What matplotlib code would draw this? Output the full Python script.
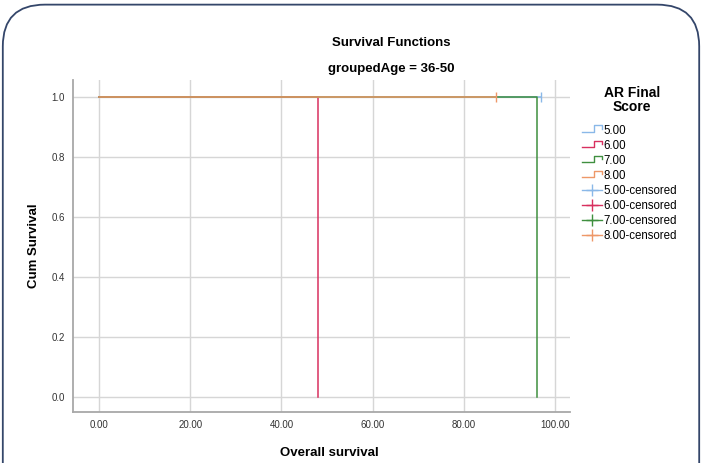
import matplotlib
matplotlib.use("Agg")
import matplotlib.pyplot as plt
import numpy as np
from matplotlib.lines import Line2D
from matplotlib.legend_handler import HandlerBase
from matplotlib.patches import FancyBboxPatch

plt.rcParams['font.family'] = ['Liberation Sans', 'DejaVu Sans']

# Survival data per AR Final Score group (time, event: 1 = death, 0 = censored)
groups = ["5.00", "6.00", "7.00", "8.00"]
times = [[97.0], [48.0], [96.0], [87.0]]
events = [[0], [1], [1], [0]]
colors = ["#8ab8e8", "#d8305f", "#3f8f3f", "#ee9868"]

x_ticks = [0, 20, 40, 60, 80, 100]
y_ticks = [0.0, 0.2, 0.4, 0.6, 0.8, 1.0]


def km_curve(t, e):
    order = np.argsort(t)
    t = np.asarray(t, float)[order]
    e = np.asarray(e)[order]
    xs, ys = [0.0], [1.0]
    s = 1.0
    n = len(t)
    cens_x, cens_y = [], []
    for i, (ti, ei) in enumerate(zip(t, e)):
        at_risk = n - i
        xs.append(ti)
        ys.append(s)
        if ei == 1:
            s = s * (1 - 1.0 / at_risk)
            xs.append(ti)
            ys.append(s)
        else:
            cens_x.append(ti)
            cens_y.append(s)
    return xs, ys, cens_x, cens_y


fig = plt.figure(figsize=(7.02, 4.63), dpi=100)
ax = fig.add_axes([0.104, 0.110, 0.708, 0.717])

for g, t, e, c in zip(groups, times, events, colors):
    xs, ys, cx, cy = km_curve(t, e)
    ax.plot(xs, ys, color=c, lw=1.1, zorder=3)
    if cx:
        ax.plot(cx, cy, ls='none', marker='|', ms=7, mew=1.0, color=c, zorder=4)

ax.set_xlim(-5.7, 103.3)
ax.set_ylim(-0.05, 1.057)
ax.set_xticks(x_ticks)
ax.set_xticklabels([f"{v:.2f}" for v in x_ticks])
ax.set_yticks(y_ticks)
ax.set_yticklabels([f"{v:.1f}" for v in y_ticks])
ax.tick_params(length=0, labelsize=7, colors="#333333", pad=6)
ax.grid(True, color="#d6d6d6", lw=1.0, zorder=0)
ax.set_axisbelow(True)
for side in ("top", "right"):
    ax.spines[side].set_visible(False)
for side in ("left", "bottom"):
    ax.spines[side].set_color("#a8a8a8")
    ax.spines[side].set_linewidth(1.3)

ax.set_xlabel("Overall survival", fontsize=9.5, fontweight='bold', labelpad=10)
ax.xaxis.set_label_coords(0.515, -0.105)
ax.set_ylabel("Cum Survival", fontsize=9.5, fontweight='bold', labelpad=8)

fig.text(0.557, 0.907, "Survival Functions", ha='center', va='center',
         fontsize=9.5, fontweight='bold')
fig.text(0.557, 0.851, "groupedAge = 36-50", ha='center', va='center',
         fontsize=9.5, fontweight='bold')


class StepHandler(HandlerBase):
    def create_artists(self, legend, orig_handle, xdescent, ydescent,
                       width, height, fontsize, trans):
        x0, w = -xdescent, width
        lo, hi = -ydescent + 0.25 * height, -ydescent + 1.0 * height
        xs = [x0, x0 + 0.6 * w, x0 + 0.6 * w, x0 + w, x0 + w]
        ys = [lo, lo, hi, hi, 0.5 * (lo + hi)]
        ln = Line2D(xs, ys, color=orig_handle.get_color(), lw=1.0,
                    transform=trans)
        return [ln]


handles, labels, hmap = [], [], {}
for g, c in zip(groups, colors):
    h = Line2D([], [], color=c)
    handles.append(h)
    labels.append(g)
    hmap[h] = StepHandler()
for g, c in zip(groups, colors):
    h = Line2D([], [], color=c, lw=1.0, marker='+', ms=9, mew=1.0)
    handles.append(h)
    labels.append(f"{g}-censored")

# Legend title drawn separately so the gap below it can be set freely
fig.text(0.900, 0.783, "AR Final\nScore", ha='center', va='center',
         fontsize=10, fontweight='bold', multialignment='center',
         linespacing=1.0)

leg = fig.legend(handles, labels, handler_map=hmap, loc='upper left',
                 bbox_to_anchor=(0.829, 0.731), frameon=False,
                 fontsize=8.3, handlelength=1.7, handletextpad=0.2,
                 labelspacing=0.27, borderaxespad=0, borderpad=0)

# Rounded outer frame
frame = FancyBboxPatch((0.004, -0.2), 0.992, 1.19,
                       boxstyle="round,pad=0,rounding_size=0.06",
                       transform=fig.transFigure, fill=False,
                       edgecolor="#34466a", lw=1.3, mutation_aspect=1.5)
fig.patches.append(frame)

fig.savefig("out.png", dpi=100)
